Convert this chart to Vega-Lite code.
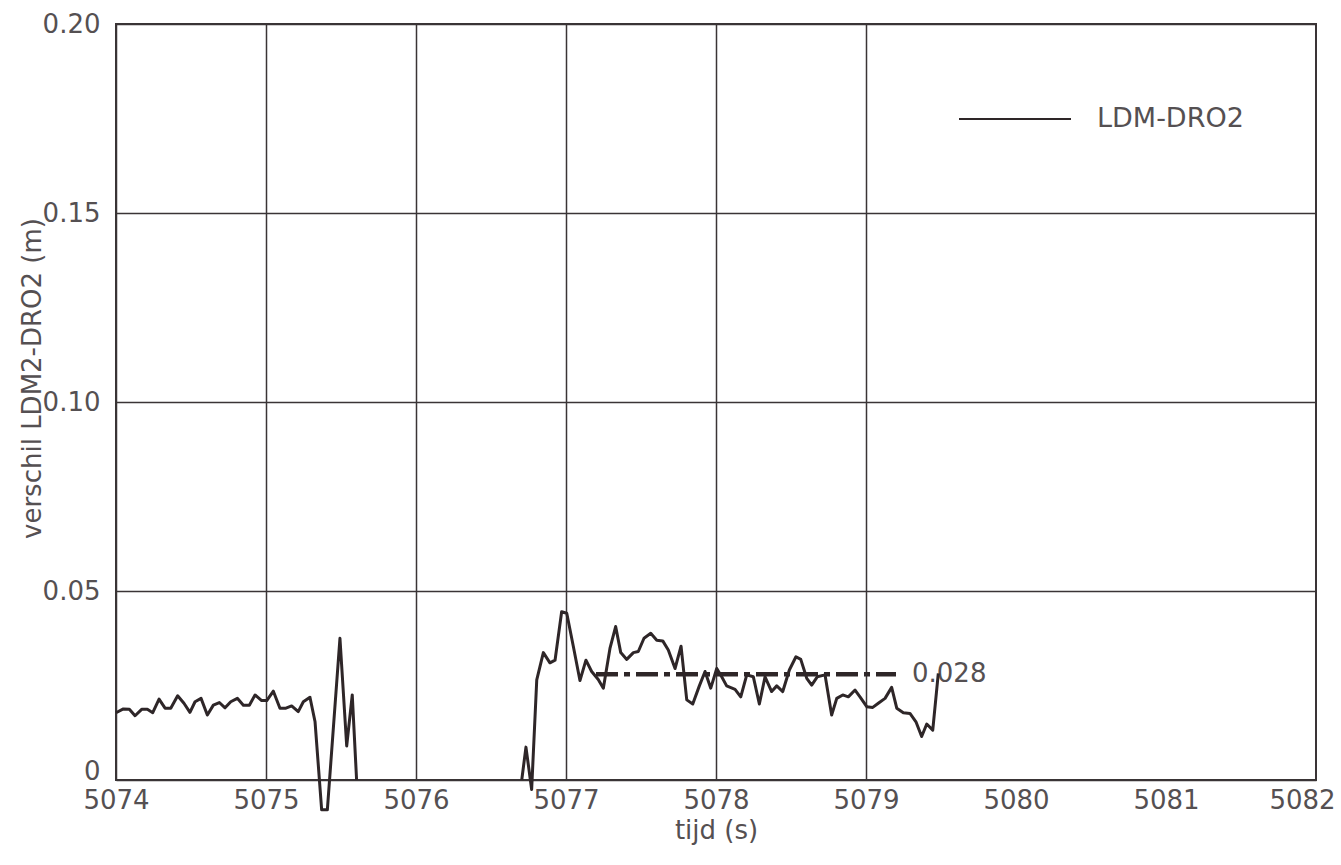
{
  "$schema": "https://vega.github.io/schema/vega-lite/v6.json",
  "width": 1200,
  "height": 756,
  "autosize": {"type": "none"},
  "padding": {"left": 116, "top": 24, "right": 25, "bottom": 85},
  "background": "white",
  "config": {
    "view": {"stroke": "#3a3436", "strokeWidth": 2},
    "font": "DejaVu Sans",
    "axis": {
      "labelFont": "DejaVu Sans",
      "labelFontSize": 26,
      "labelColor": "#555052",
      "titleFont": "DejaVu Sans",
      "titleFontSize": 26,
      "titleFontWeight": "normal",
      "titleColor": "#555052",
      "ticks": false,
      "domain": false,
      "gridColor": "#3a3436",
      "gridWidth": 1.5,
      "gridOpacity": 1
    }
  },
  "datasets": {
    "series": [
      {"t": 5074.000, "v": 0.0178}, {"t": 5074.049, "v": 0.0188}, {"t": 5074.089, "v": 0.0187},
      {"t": 5074.127, "v": 0.0170}, {"t": 5074.171, "v": 0.0187}, {"t": 5074.209, "v": 0.0187},
      {"t": 5074.245, "v": 0.0178}, {"t": 5074.287, "v": 0.0214}, {"t": 5074.327, "v": 0.0190},
      {"t": 5074.365, "v": 0.0190}, {"t": 5074.411, "v": 0.0223}, {"t": 5074.453, "v": 0.0203},
      {"t": 5074.493, "v": 0.0179}, {"t": 5074.527, "v": 0.0207}, {"t": 5074.567, "v": 0.0216},
      {"t": 5074.609, "v": 0.0172}, {"t": 5074.649, "v": 0.0198}, {"t": 5074.689, "v": 0.0205},
      {"t": 5074.727, "v": 0.0191}, {"t": 5074.765, "v": 0.0207}, {"t": 5074.809, "v": 0.0216},
      {"t": 5074.849, "v": 0.0198}, {"t": 5074.889, "v": 0.0198}, {"t": 5074.927, "v": 0.0225},
      {"t": 5074.971, "v": 0.0210}, {"t": 5075.005, "v": 0.0210}, {"t": 5075.049, "v": 0.0235},
      {"t": 5075.093, "v": 0.0190}, {"t": 5075.133, "v": 0.0190}, {"t": 5075.171, "v": 0.0196},
      {"t": 5075.215, "v": 0.0181}, {"t": 5075.249, "v": 0.0207}, {"t": 5075.293, "v": 0.0219},
      {"t": 5075.327, "v": 0.0154}, {"t": 5075.371, "v": -0.0079}, {"t": 5075.409, "v": -0.0079},
      {"t": 5075.493, "v": 0.0375}, {"t": 5075.538, "v": 0.0090}, {"t": 5075.575, "v": 0.0225},
      {"t": 5075.604, "v": 0.0}, {"t": 5076.100, "v": null}, {"t": 5076.705, "v": 0.0}, {"t": 5076.733, "v": 0.0087},
      {"t": 5076.771, "v": -0.0025}, {"t": 5076.805, "v": 0.0265}, {"t": 5076.849, "v": 0.0337},
      {"t": 5076.893, "v": 0.0310}, {"t": 5076.927, "v": 0.0317}, {"t": 5076.971, "v": 0.0445},
      {"t": 5077.005, "v": 0.0441}, {"t": 5077.049, "v": 0.0353}, {"t": 5077.093, "v": 0.0263},
      {"t": 5077.133, "v": 0.0317}, {"t": 5077.171, "v": 0.0287}, {"t": 5077.215, "v": 0.0266},
      {"t": 5077.249, "v": 0.0243}, {"t": 5077.293, "v": 0.0348}, {"t": 5077.331, "v": 0.0406},
      {"t": 5077.365, "v": 0.0337}, {"t": 5077.405, "v": 0.0319}, {"t": 5077.449, "v": 0.0337},
      {"t": 5077.482, "v": 0.0340}, {"t": 5077.520, "v": 0.0375}, {"t": 5077.565, "v": 0.0388},
      {"t": 5077.605, "v": 0.0370}, {"t": 5077.645, "v": 0.0368}, {"t": 5077.682, "v": 0.0344},
      {"t": 5077.727, "v": 0.0295}, {"t": 5077.767, "v": 0.0354}, {"t": 5077.805, "v": 0.0212},
      {"t": 5077.845, "v": 0.0201}, {"t": 5077.889, "v": 0.0249}, {"t": 5077.927, "v": 0.0287},
      {"t": 5077.965, "v": 0.0243}, {"t": 5078.005, "v": 0.0295}, {"t": 5078.038, "v": 0.0273},
      {"t": 5078.071, "v": 0.0249}, {"t": 5078.127, "v": 0.0240}, {"t": 5078.165, "v": 0.0220},
      {"t": 5078.205, "v": 0.0278}, {"t": 5078.249, "v": 0.0273}, {"t": 5078.289, "v": 0.0201},
      {"t": 5078.327, "v": 0.0273}, {"t": 5078.371, "v": 0.0234}, {"t": 5078.405, "v": 0.0249},
      {"t": 5078.445, "v": 0.0234}, {"t": 5078.489, "v": 0.0291}, {"t": 5078.533, "v": 0.0326},
      {"t": 5078.565, "v": 0.0319}, {"t": 5078.605, "v": 0.0269}, {"t": 5078.638, "v": 0.0251},
      {"t": 5078.675, "v": 0.0273}, {"t": 5078.727, "v": 0.0278}, {"t": 5078.771, "v": 0.0172},
      {"t": 5078.805, "v": 0.0216}, {"t": 5078.845, "v": 0.0225}, {"t": 5078.882, "v": 0.0220},
      {"t": 5078.927, "v": 0.0238}, {"t": 5078.960, "v": 0.0220}, {"t": 5079.005, "v": 0.0194},
      {"t": 5079.045, "v": 0.0192}, {"t": 5079.082, "v": 0.0203}, {"t": 5079.127, "v": 0.0216},
      {"t": 5079.171, "v": 0.0245}, {"t": 5079.205, "v": 0.0190}, {"t": 5079.249, "v": 0.0178},
      {"t": 5079.293, "v": 0.0176}, {"t": 5079.333, "v": 0.0154}, {"t": 5079.371, "v": 0.0115},
      {"t": 5079.405, "v": 0.0148}, {"t": 5079.445, "v": 0.0132}, {"t": 5079.482, "v": 0.0282}
    ],
    "mean": [
      {"t0": 5077.2, "t1": 5079.2, "mean": 0.028}
    ]
  },
  "layer": [
    {
      "mark": {"type": "rule", "color": "#3a3436", "strokeWidth": 1.5},
      "encoding": {
        "x": {"datum": 5080, "type": "quantitative"},
        "y": {"datum": 0, "type": "quantitative"},
        "y2": {"datum": 0.15}
      }
    },
    {
      "mark": {"type": "rule", "color": "#3a3436", "strokeWidth": 1.5},
      "encoding": {
        "x": {"datum": 5081, "type": "quantitative"},
        "y": {"datum": 0, "type": "quantitative"},
        "y2": {"datum": 0.15}
      }
    },
    {
      "data": {"name": "mean"},
      "mark": {"type": "rule", "color": "#2e2628", "strokeWidth": 4.5, "strokeDash": [22, 6, 6, 6]},
      "encoding": {
        "x": {"field": "t0", "type": "quantitative"},
        "x2": {"field": "t1"},
        "y": {"field": "mean", "type": "quantitative"}
      }
    },
    {
      "data": {"name": "mean"},
      "mark": {"type": "text", "align": "left", "baseline": "middle", "dx": 16, "fontSize": 26, "font": "DejaVu Sans", "color": "#555052"},
      "encoding": {
        "x": {"field": "t1", "type": "quantitative"},
        "y": {"field": "mean", "type": "quantitative"},
        "text": {"field": "mean", "type": "quantitative", "format": ".3f"}
      }
    },
    {
      "data": {"name": "series"},
      "mark": {"type": "line", "strokeWidth": 3, "strokeJoin": "round", "invalid": "break-paths-filter-domains"},
      "encoding": {
        "x": {
          "field": "t",
          "type": "quantitative",
          "scale": {"domain": [5074, 5082], "nice": false, "zero": false},
          "axis": {
            "title": "tijd (s)",
            "values": [5074, 5075, 5076, 5077, 5078, 5079, 5080, 5081, 5082],
            "format": "d",
            "labelFlush": false,
            "labelPadding": 7,
            "titlePadding": 4,
            "grid": true,
            "gridColor": {"condition": {"test": "datum.value >= 5080", "value": "transparent"}, "value": "#3a3436"},
            "labelOffset": {"condition": {"test": "datum.value == 5082", "value": -14}, "value": 0}
          }
        },
        "y": {
          "field": "v",
          "type": "quantitative",
          "scale": {"domain": [0, 0.2], "nice": false},
          "axis": {
            "title": "verschil LDM2-DRO2 (m)",
            "values": [0, 0.05, 0.1, 0.15, 0.2],
            "labelExpr": "datum.value == 0 ? '0' : format(datum.value, '.2f')",
            "labelFlush": false,
            "labelPadding": 16,
            "labelOffset": {"condition": {"test": "datum.value == 0", "value": -9}, "value": 0},
            "grid": true,
            "titleAngle": 270,
            "titleX": -76,
            "titleY": 354,
            "titleBaseline": "alphabetic",
            "titleAlign": "center"
          }
        },
        "color": {
          "datum": "LDM-DRO2",
          "type": "nominal",
          "scale": {"range": ["#2e2628"]},
          "legend": {
            "title": null,
            "orient": "none",
            "legendX": 842,
            "legendY": 38,
            "padding": 0,
            "symbolType": "stroke",
            "symbolSize": 12544,
            "symbolStrokeWidth": 2,
            "labelFont": "DejaVu Sans",
            "labelFontSize": 27,
            "labelColor": "#555052",
            "labelOffset": 25
          }
        }
      }
    }
  ]
}
